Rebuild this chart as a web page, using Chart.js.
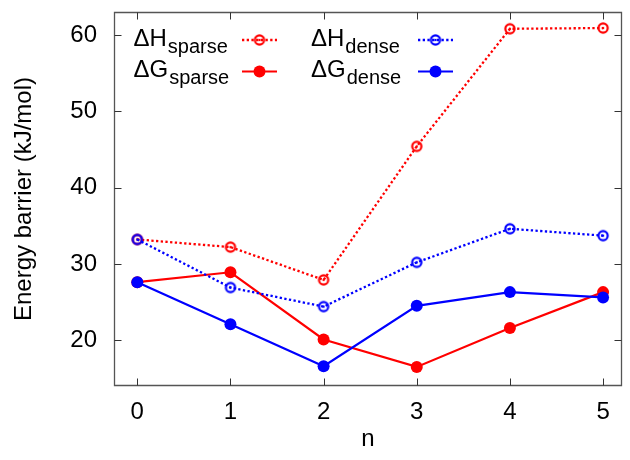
<!DOCTYPE html>
<html><head><meta charset="utf-8">
<script src="https://cdn.jsdelivr.net/npm/chart.js@4"></script>
<style>html,body{margin:0;padding:0;background:#fff}#wrap{width:630px;height:460px}</style>
</head><body><div id="wrap"><canvas id="c" width="630" height="460"></canvas></div>
<script>
// ---- data ----
const nValues   = [0, 1, 2, 3, 4, 5];
const dHsparse  = [33.2, 32.2, 27.9, 45.4, 60.8, 60.9];
const dGsparse  = [27.6, 28.9, 20.1, 16.5, 21.6, 26.3];
const dHdense   = [33.2, 26.9, 24.4, 30.2, 34.6, 33.7];
const dGdense   = [27.6, 22.1, 16.6, 24.5, 26.3, 25.6];
const xTickValues = [0, 1, 2, 3, 4, 5];
const yTickValues = [20, 30, 40, 50, 60];
const legendMain = ['ΔH', 'ΔG', 'ΔH', 'ΔG'];
const legendSub  = ['sparse', 'sparse', 'dense', 'dense'];
const xTitle = 'n';
const yTitle = 'Energy barrier (kJ/mol)';

const RED = '#ff0000', BLUE = '#0000ff';
const FONT = '"Liberation Sans", Arial, Helvetica, sans-serif';

function openCircle(color){
  const c = document.createElement('canvas');
  c.width = 16; c.height = 16;
  const g = c.getContext('2d');
  g.strokeStyle = color; g.lineWidth = 2.2;
  g.beginPath(); g.arc(8, 8, 4.6, 0, Math.PI*2); g.stroke();
  g.fillStyle = color;
  g.beginPath(); g.arc(8, 8, 1.2, 0, Math.PI*2); g.fill();
  return c;
}
const openRed = openCircle(RED), openBlue = openCircle(BLUE);

const pts = (ys) => nValues.map((x, i) => ({x: x, y: ys[i]}));
const DOT = [2.3, 2.4];

const datasets = [
  {label: legendMain[0]+legendSub[0], data: pts(dHsparse), borderColor: RED, backgroundColor: RED,
   borderWidth: 2.3, borderDash: DOT, pointStyle: openRed, pointRadius: 6, order: 3},
  {label: legendMain[1]+legendSub[1], data: pts(dGsparse), borderColor: RED, backgroundColor: RED,
   borderWidth: 2.2, pointStyle: 'circle', pointRadius: 6, pointBorderWidth: 0, order: 2},
  {label: legendMain[2]+legendSub[2], data: pts(dHdense), borderColor: BLUE, backgroundColor: BLUE,
   borderWidth: 2.3, borderDash: DOT, pointStyle: openBlue, pointRadius: 6, order: 1},
  {label: legendMain[3]+legendSub[3], data: pts(dGdense), borderColor: BLUE, backgroundColor: BLUE,
   borderWidth: 2.2, pointStyle: 'circle', pointRadius: 6, pointBorderWidth: 0, order: 0}
];

const framePlugin = {
  id: 'frame',
  afterDraw(chart){
    const {ctx, chartArea: a, scales} = chart;
    ctx.save();
    ctx.strokeStyle = '#555'; ctx.lineWidth = 1.3;
    const l = Math.round(a.left)+0.5, t = Math.round(a.top)+0.5;
    const r = Math.round(a.right)-0.5, b = Math.round(a.bottom)-0.5;
    ctx.beginPath();
    ctx.moveTo(l, t); ctx.lineTo(r, t); ctx.lineTo(r, b); ctx.lineTo(l, b); ctx.closePath();
    ctx.stroke();
    ctx.strokeStyle = '#333'; ctx.lineWidth = 1;
    const L = 7;
    ctx.beginPath();
    xTickValues.forEach(v => {
      const px = Math.round(scales.x.getPixelForValue(v)) + 0.5;
      ctx.moveTo(px, b); ctx.lineTo(px, b - L);
      ctx.moveTo(px, t); ctx.lineTo(px, t + L);
    });
    yTickValues.forEach(v => {
      const py = Math.round(scales.y.getPixelForValue(v)) + 0.5;
      ctx.moveTo(l, py); ctx.lineTo(l + L, py);
      ctx.moveTo(r, py); ctx.lineTo(r - L, py);
    });
    ctx.stroke();
    ctx.restore();
  }
};

const legendPlugin = {
  id: 'subLegend',
  afterDraw(chart){
    const ctx = chart.ctx;
    const cols = [{tx: 133.5, lx0: 242, lx1: 277}, {tx: 311, lx0: 418, lx1: 453}];
    const rows = [{base: 45.5, ly: 40}, {base: 77, ly: 71.5}];
    ctx.save();
    datasets.forEach((ds, i) => {
      const col = cols[Math.floor(i/2)], row = rows[i%2];
      ctx.fillStyle = '#000';
      ctx.textBaseline = 'alphabetic'; ctx.textAlign = 'left';
      ctx.font = '24px ' + FONT;
      ctx.fillText(legendMain[i], col.tx, row.base);
      const w = ctx.measureText(legendMain[i]).width;
      ctx.font = '20px ' + FONT;
      ctx.fillText(legendSub[i], col.tx + w + 1, row.base + 7);
      ctx.strokeStyle = ds.borderColor; ctx.lineWidth = ds.borderWidth;
      ctx.setLineDash(ds.borderDash || []);
      ctx.beginPath(); ctx.moveTo(col.lx0, row.ly); ctx.lineTo(col.lx1, row.ly); ctx.stroke();
      ctx.setLineDash([]);
      const cx = (col.lx0 + col.lx1)/2;
      if (ds.pointStyle === 'circle') {
        ctx.fillStyle = ds.backgroundColor;
        ctx.beginPath(); ctx.arc(cx, row.ly, 6, 0, Math.PI*2); ctx.fill();
      } else {
        ctx.drawImage(ds.pointStyle, cx - 8, row.ly - 8);
      }
    });
    ctx.restore();
  }
};

new Chart(document.getElementById('c'), {
  type: 'line',
  data: {datasets},
  options: {
    responsive: false, animation: false, devicePixelRatio: 1,
    events: [],
    layout: {padding: {left: 0, right: 4, top: 12, bottom: 0}},
    plugins: {legend: {display: false}, tooltip: {enabled: false}},
    elements: {line: {tension: 0}},
    scales: {
      x: {
        type: 'linear', min: -0.25, max: 5.2,
        afterBuildTicks: s => { s.ticks = xTickValues.map(v => ({value: v})); },
        afterFit: s => { s.height = 74; s.paddingLeft = 0; s.paddingRight = 0; },
        grid: {display: false, drawTicks: false}, border: {display: false},
        ticks: {color: '#000', font: {family: FONT, size: 24}, padding: 12, maxRotation: 0, autoSkip: false},
        title: {display: true, text: xTitle, color: '#000', font: {family: FONT, size: 24}, padding: {top: 0, bottom: 6}}
      },
      y: {
        type: 'linear', min: 14, max: 63,
        afterBuildTicks: s => { s.ticks = yTickValues.map(v => ({value: v})); },
        afterFit: s => { s.width = 114; s.paddingTop = 0; s.paddingBottom = 0; },
        grid: {display: false, drawTicks: false}, border: {display: false},
        ticks: {color: '#000', font: {family: FONT, size: 24}, padding: 17},
        title: {display: true, text: yTitle, color: '#000', font: {family: FONT, size: 24}, padding: {top: 10, bottom: 0}}
      }
    }
  },
  plugins: [framePlugin, legendPlugin]
});
</script>
</body></html>
